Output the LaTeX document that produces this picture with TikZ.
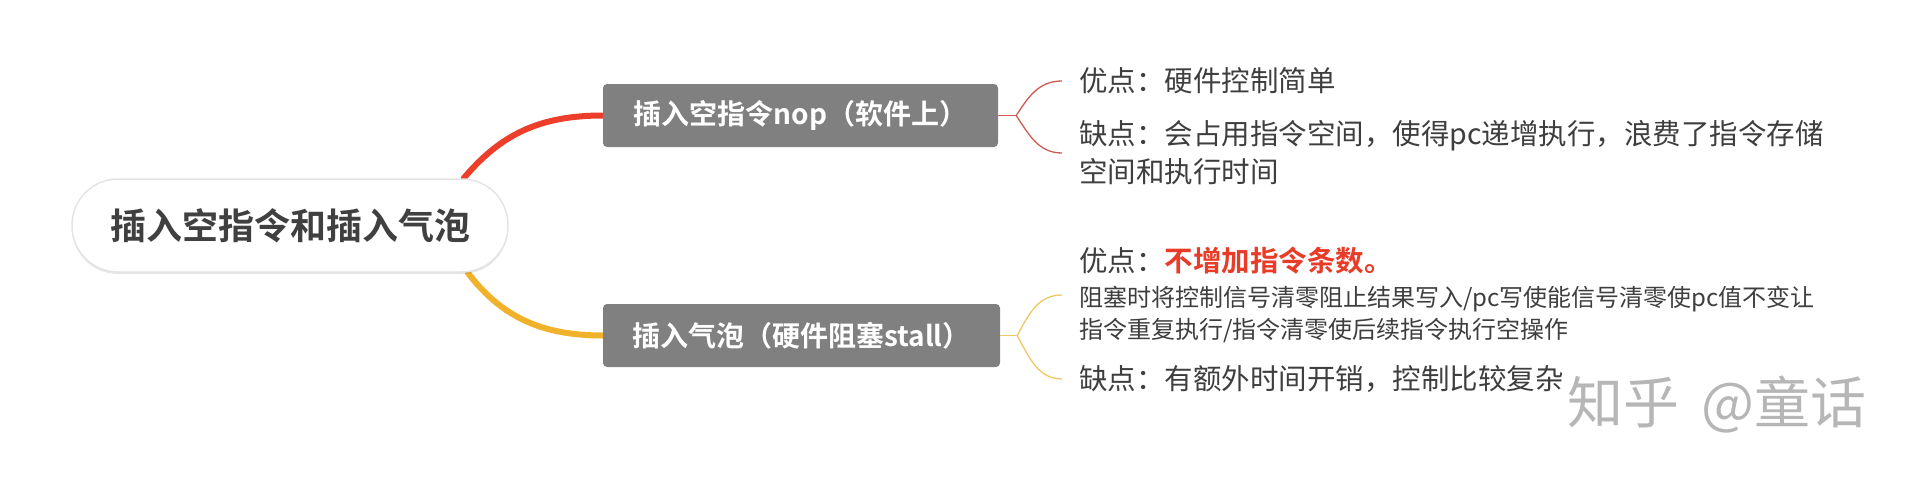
\documentclass[tikz,border=0pt]{standalone}
\usepackage{fontspec}
\newfontfamily\cjk{Noto Sans CJK SC}[BoldFont={Noto Sans CJK SC Bold}]
\usetikzlibrary{calc,backgrounds,shadows}
\definecolor{txtdark}{RGB}{64,64,64}
\definecolor{leaftxt}{RGB}{62,62,62}
\definecolor{boxgrey}{RGB}{128,128,128}
\definecolor{pillborder}{RGB}{228,228,228}
\definecolor{mainred}{RGB}{236,62,42}
\definecolor{mainyellow}{RGB}{240,178,42}
\definecolor{thinred}{RGB}{204,92,80}
\definecolor{thinyellow}{RGB}{238,200,100}
\definecolor{emred}{RGB}{232,60,40}
\definecolor{wmgrey}{RGB}{182,182,182}
\begin{document}
\begin{tikzpicture}[x=1pt,y=-1pt,
  rootnode/.style={rectangle, rounded corners=46pt, fill=white, draw=pillborder, line width=1.5pt,
    minimum width=436pt, minimum height=93pt, inner sep=0pt, text=txtdark,
    font=\cjk\bfseries\fontsize{36}{43}\selectfont,
    drop shadow={shadow xshift=0pt, shadow yshift=-2pt, opacity=0.10, fill=black}},
  branchbox/.style={rectangle, rounded corners=4pt, fill=boxgrey, draw=none,
    minimum height=63pt, inner sep=0pt, text=white,
    font=\cjk\bfseries\fontsize{28}{33}\selectfont},
  leaf/.style={anchor=west, inner sep=0pt, align=left, text=leaftxt,
    font=\cjk\fontsize{28.5}{38}\selectfont},
  mainline/.style={line width=6pt, line cap=round},
  bracketline/.style={line width=1.3pt},
]
\useasboundingbox (0,0) rectangle (1916,482);

% root
\node[rootnode] (root) at (290,225.5) {插入空指令和插入气泡};

% branches
\node[branchbox, minimum width=395pt] (b1) at (800.5,115.5) {插入空指令nop（软件上）};
\node[branchbox, minimum width=397pt] (b2) at (801.5,335.5) {插入气泡（硬件阻塞stall）};

% leaves
\node[leaf] (l1) at (1079,81) {优点：硬件控制简单};
\node[leaf] (l2) at (1079,153) {缺点：会占用指令空间，使得pc递增执行，浪费了指令存储\\空间和执行时间};
\node[leaf, font=\cjk\fontsize{24}{32}\selectfont] (l3) at (1079,295)
  {{\fontsize{28.5}{35}\selectfont 优点：{\color{emred}\bfseries 不增加指令条数。}}\\[3pt]
   阻塞时将控制信号清零阻止结果写入/pc写使能信号清零使pc值不变让\\
   指令重复执行/指令清零使后续指令执行空操作};
\node[leaf] (l4) at (1079,379) {缺点：有额外时间开销，控制比较复杂};

% watermark
\node[inner sep=0pt, text=wmgrey, font=\cjk\fontsize{56}{62}\selectfont] (wm) at (1717,405) {知乎\hspace{22pt}@童话};

\begin{scope}[on background layer]
  % main connectors
  \draw[mainline, draw=mainred] ([xshift=-45pt]root.north east) .. controls +(37,-44) and +(-63,0) .. (b1.west);
  \draw[mainline, draw=mainyellow] ([xshift=-41pt]root.south east) .. controls +(33,43) and +(-63,0) .. (b2.west);
\end{scope}

% brackets branch 1
\coordinate (f1) at ([xshift=18pt]b1.east);
\draw[bracketline, draw=thinred] (b1.east) -- (f1);
\draw[bracketline, draw=thinred] (f1) .. controls +(12,-18) and +(-24,0) .. ([xshift=-17pt]l1.west);
\draw[bracketline, draw=thinred] (f1) .. controls +(12,18) and +(-24,0) .. ([xshift=-17pt]l2.west);

% brackets branch 2
\coordinate (f2) at ([xshift=17pt]b2.east);
\draw[bracketline, draw=thinyellow] (b2.east) -- (f2);
\draw[bracketline, draw=thinyellow] (f2) .. controls +(12,-22) and +(-24,0) .. ([xshift=-17pt]l3.west);
\draw[bracketline, draw=thinyellow] (f2) .. controls +(12,22) and +(-24,0) .. ([xshift=-17pt]l4.west);
\end{tikzpicture}
\end{document}
